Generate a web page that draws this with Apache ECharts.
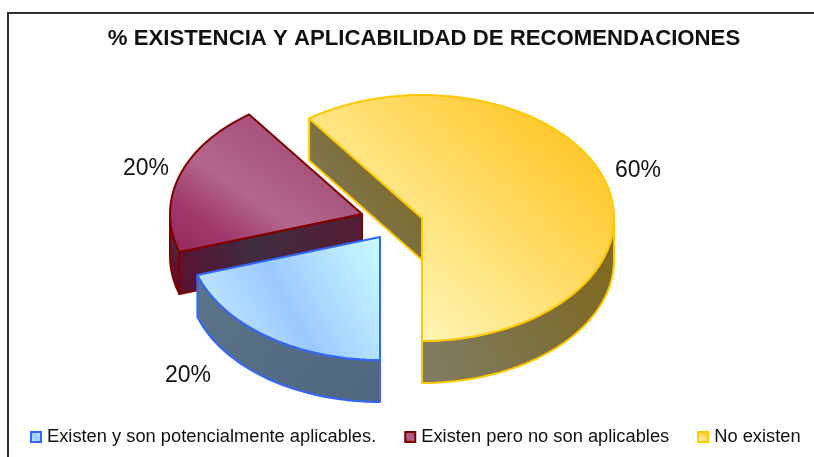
<!DOCTYPE html>
<html>
<head>
<meta charset="utf-8">
<style>
  html, body { margin: 0; padding: 0; background: #fff; }
  #main { width: 814px; height: 457px; }
</style>
<script src="https://cdn.jsdelivr.net/npm/echarts@6/dist/echarts.min.js"></script>
</head>
<body>
<div id="main"></div>
<script>
// datos
var chartTitle = '% EXISTENCIA Y APLICABILIDAD DE RECOMENDACIONES';
var categories = ['Existen y son potencialmente aplicables.', 'Existen pero no son aplicables', 'No existen'];
var percents = [20, 20, 60];

// geometry of the fake 3d pie, one entry per category
var radiusX = 192, radiusY = 123, depth = 42;
var centers = [[380, 237], [362, 214], [422, 218]];
var labelPos = [[188, 376], [146, 169], [638, 171]];
var strokes = ['#3366ff', '#800000', '#ffc800'];

function grad(x, y, x2, y2, colors) {
  return {
    type: 'linear', x: x, y: y, x2: x2, y2: y2,
    colorStops: colors.map(function (c) {
      return { offset: c[1], color: c[0] };
    })
  };
}
var tops = [
  grad(1, 0, 0, 0.8, [['#ccfcff', 0], ['#9bc9ff', 0.55], ['#c8eeff', 1]]),
  grad(0.1, 1, 0.5, 0.2, [['#962c5e', 0], ['#a0386c', 0.25], ['#b3678e', 0.6], ['#a9557f', 1]]),
  grad(0.25, 1, 0.85, 0.2, [['#fffac4', 0], ['#ffc92f', 1]])
];
var walls = [
  grad(0, 0, 1, 1, [['#5a7488', 0], ['#4f667f', 1]]),
  grad(1, 0, 0, 0.6, [['#561c35', 0], ['#3f2c3f', 0.6], ['#581334', 1]]),
  grad(0, 0.8, 1, 0.2, [['#7f7c62', 0], ['#7e6c30', 0.7], ['#7f6a1c', 1]])
];

// start and end angle of each slice, clockwise from the bottom of the ellipse
var angles = [];
var total = percents.reduce(function (a, b) { return a + b; }, 0);
percents.reduce(function (acc, v) {
  var next = acc + v / total * 360;
  angles.push([acc, next]);
  return next;
}, 0);

function rimPoint(c, deg, drop) {
  var r = deg * Math.PI / 180;
  return [c[0] - radiusX * Math.sin(r), c[1] + radiusY * Math.cos(r) + (drop || 0)];
}

function arcPoints(c, from, to, drop) {
  var pts = [];
  var n = Math.max(2, Math.ceil(Math.abs(to - from) / 2));
  for (var i = 0; i <= n; i++) {
    pts.push(rimPoint(c, from + (to - from) * i / n, drop));
  }
  return pts;
}

function poly(points, fill, stroke, z2) {
  return {
    type: 'polygon',
    shape: { points: points },
    z2: z2,
    style: { fill: fill, stroke: stroke, lineWidth: 2, lineJoin: 'round' }
  };
}

function renderSlice(i) {
  return function (params, api) {
    var c = centers[i];
    var a = angles[i];
    var kids = [];
    // outer wall, only the part facing the viewer
    [[0, 90], [270, 360]].forEach(function (range) {
      var from = Math.max(a[0], range[0]);
      var to = Math.min(a[1], range[1]);
      if (to > from) {
        kids.push(poly(arcPoints(c, from, to, 0).concat(arcPoints(c, to, from, depth)), walls[i], strokes[i], 1));
      }
    });
    // cut wall on the start side
    if (Math.sin(a[0] * Math.PI / 180) > 0.001) {
      kids.push(poly([
        c, rimPoint(c, a[0], 0), rimPoint(c, a[0], depth), [c[0], c[1] + depth]
      ], walls[i], strokes[i], 2));
    }
    // top face
    kids.push(poly([c].concat(arcPoints(c, a[0], a[1], 0)), tops[i], strokes[i], 3));
    kids.push({
      type: 'text',
      z2: 4,
      style: {
        x: labelPos[i][0], y: labelPos[i][1],
        text: api.value(0) + '%',
        fill: '#111',
        fontFamily: 'Liberation Sans', fontSize: 23,
        align: 'center', verticalAlign: 'middle'
      }
    });
    return { type: 'group', children: kids };
  };
}

// blue sits in front of red, yellow is at the back
var seriesZ = [3, 2, 1];
var series = categories.map(function (name, i) {
  return {
    type: 'custom',
    name: name,
    coordinateSystem: 'none',
    z: seriesZ[i],
    itemStyle: { color: tops[i], borderColor: strokes[i], borderWidth: 2 },
    data: [[percents[i]]],
    renderItem: renderSlice(i),
    silent: true
  };
});

var chart = echarts.init(document.getElementById('main'));
chart.setOption({
  animation: false,
  backgroundColor: '#fff',
  textStyle: { fontFamily: 'Liberation Sans' },
  title: {
    text: chartTitle,
    left: 419,
    top: 23,
    textAlign: 'center',
    textStyle: { fontFamily: 'Liberation Sans', fontWeight: 'bold', fontSize: 22.2, color: '#111' }
  },
  legend: {
    data: categories,
    left: 25,
    top: 423,
    itemWidth: 10,
    itemHeight: 10,
    itemGap: 28,
    icon: 'rect',
    textStyle: { fontFamily: 'Liberation Sans', fontSize: 18.3, color: '#111', padding: [0, 0, 0, 1] },
    selectedMode: false
  },
  graphic: [
    { type: 'polyline', shape: { points: [[8, 457], [8, 13], [814, 13]] }, style: { stroke: '#333', lineWidth: 2, fill: null } }
  ],
  series: series
});
</script>
</body>
</html>
